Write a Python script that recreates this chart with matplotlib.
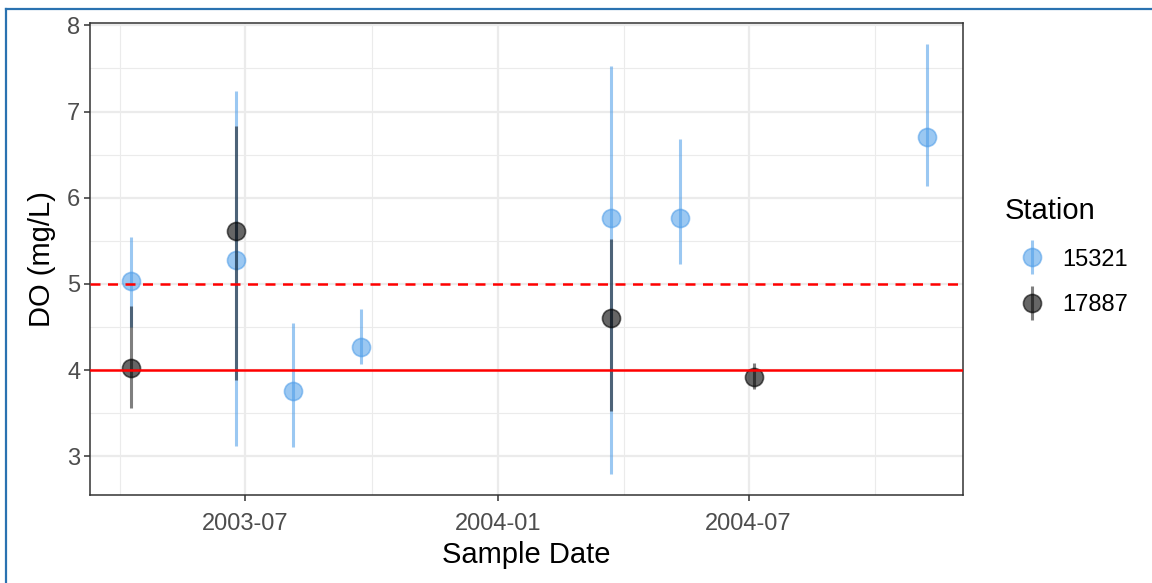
import matplotlib
matplotlib.use("Agg")
import matplotlib.pyplot as plt
import matplotlib.dates as mdates
import numpy as np
from matplotlib.lines import Line2D
from matplotlib.legend_handler import HandlerTuple

plt.rcParams['font.family'] = ['Liberation Sans', 'DejaVu Sans']

# station 15321
dates_15321 = np.array(['2003-04-09', '2003-06-24', '2003-08-05', '2003-09-23',
                        '2004-03-23', '2004-05-12', '2004-11-08'], dtype='datetime64[D]')
do_15321 = np.array([5.03, 5.28, 3.76, 4.27, 5.77, 5.77, 6.70])
lo_15321 = np.array([4.50, 3.12, 3.11, 4.07, 2.79, 5.23, 6.14])
hi_15321 = np.array([5.54, 7.24, 4.55, 4.71, 7.53, 6.68, 7.78])

# station 17887
dates_17887 = np.array(['2003-04-09', '2003-06-24', '2004-03-23', '2004-07-05'],
                       dtype='datetime64[D]')
do_17887 = np.array([4.03, 5.61, 4.61, 3.92])
lo_17887 = np.array([3.56, 3.89, 3.52, 3.78])
hi_17887 = np.array([4.74, 6.83, 5.52, 4.08])

stations = ['15321', '17887']
station_colors = ['#4A9BE8', '#000000']
line_alpha = [0.55, 0.5]
point_alpha = [0.55, 0.6]
limit_solid = 4
limit_dashed = 5

fig = plt.figure(figsize=(11.52, 5.83), dpi=100)
ax = fig.add_axes([0.0781, 0.151, 0.758, 0.8095])

series = [(dates_15321, do_15321, lo_15321, hi_15321),
          (dates_17887, do_17887, lo_17887, hi_17887)]
for (d, y, lo, hi), col, la, pa in zip(series, station_colors, line_alpha, point_alpha):
    ax.vlines(d, lo, hi, color=col, alpha=la, lw=2.2, zorder=3)
    ax.plot(d, y, 'o', color=col, alpha=pa, ms=13, mew=1.2, zorder=3)

ax.axhline(limit_solid, color='red', lw=1.8, zorder=4)
ax.axhline(limit_dashed, color='red', lw=1.8, ls=(0, (4, 3)), zorder=4)

# axes
ax.set_xlim(np.datetime64('2003-03-10'), np.datetime64('2004-12-04'))
ax.set_ylim(2.551, 8.027)
ax.set_yticks([3, 4, 5, 6, 7, 8])
ax.set_yticks([3.5, 4.5, 5.5, 6.5, 7.5], minor=True)
ax.xaxis.set_major_locator(mdates.MonthLocator(bymonth=[1, 7]))
ax.xaxis.set_minor_locator(mdates.MonthLocator(bymonth=[4, 10]))
ax.xaxis.set_major_formatter(mdates.DateFormatter('%Y-%m'))

ax.grid(which='major', color='#EBEBEB', lw=1.6, zorder=0)
ax.grid(which='minor', color='#EBEBEB', lw=0.8, zorder=0)
ax.set_axisbelow(True)
for s in ax.spines.values():
    s.set_color('#333333')
    s.set_linewidth(1.1)
ax.tick_params(which='major', length=4, width=1.1, color='#333333',
               labelsize=17, labelcolor='#4D4D4D', pad=3)
ax.tick_params(axis='x', which='major', pad=9)
ax.tick_params(which='minor', length=0)

ax.set_xlabel('Sample Date', fontsize=21, labelpad=4)
ax.set_ylabel('DO (mg/L)', fontsize=21, labelpad=8)

# legend
handles = []
for col, la, pa in zip(station_colors, line_alpha, point_alpha):
    handles.append((Line2D([], [], color=col, alpha=la, marker='|', ms=25, mew=2.2, ls='none'),
                    Line2D([], [], color=col, alpha=pa, marker='o', ms=13, mew=1.2, ls='none')))
leg = fig.legend(handles, stations, title='Station', loc='upper left',
                 bbox_to_anchor=(0.872, 0.662), frameon=False, fontsize=17,
                 title_fontsize=21, handler_map={tuple: HandlerTuple(ndivide=1, pad=0)},
                 handlelength=2.3, handletextpad=0.15, labelspacing=1.0,
                 alignment='left', borderaxespad=0, borderpad=0)

# screenshot frame
fig.add_artist(Line2D([6 / 1152, 1], [1 - 9 / 583, 1 - 9 / 583], color='#2A72B0', lw=1.6))
fig.add_artist(Line2D([6 / 1152, 6 / 1152], [0, 1 - 9 / 583], color='#2A72B0', lw=1.6))

fig.savefig('out.png', dpi=100)
